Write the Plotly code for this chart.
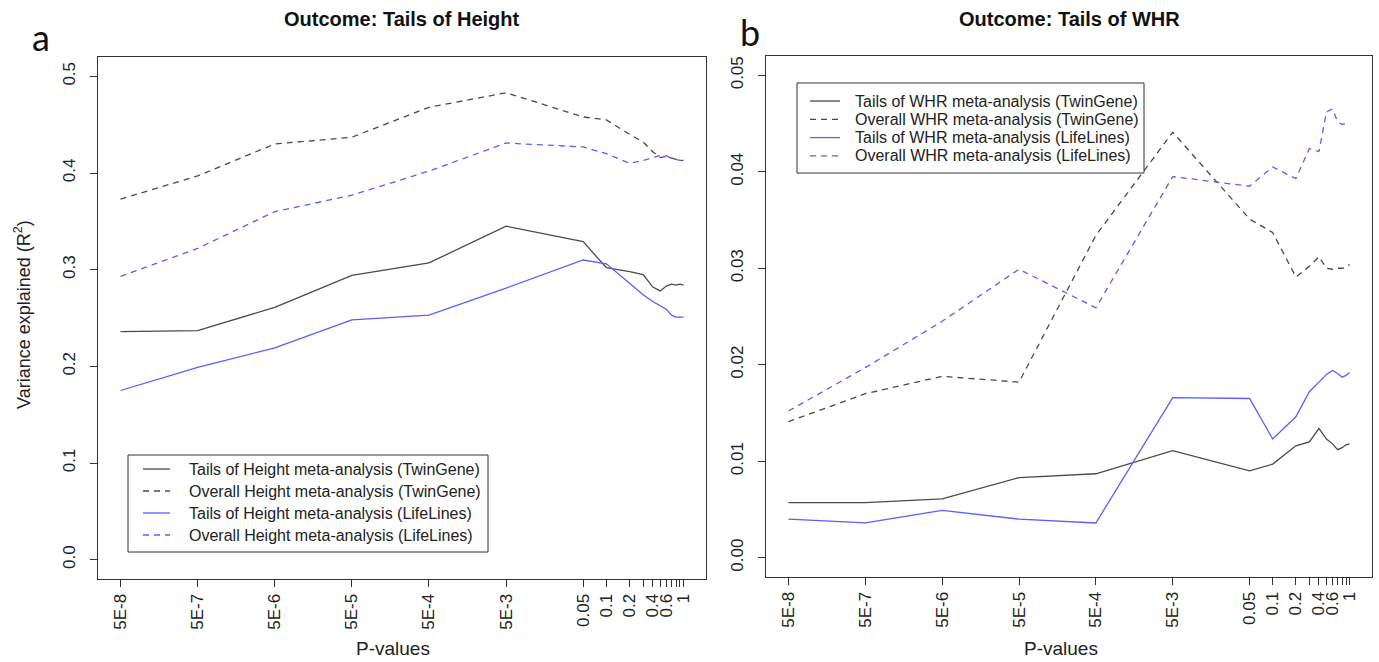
import math
import plotly.graph_objects as go

# P-value thresholds used to build the polygenic scores
p_values = [5e-8, 5e-7, 5e-6, 5e-5, 5e-4, 5e-3, 0.05, 0.1, 0.2, 0.3,
            0.4, 0.5, 0.6, 0.7, 0.8, 0.9, 1.0]
p_tick_text = ["5E-8", "5E-7", "5E-6", "5E-5", "5E-4", "5E-3", "0.05", "0.1",
               "0.2", "", "0.4", "", "0.6", "", "", "", "1"]

# Panel a: variance explained in the tails of height
height_tails_twingene = [0.236, 0.237, 0.261, 0.294, 0.307, 0.345, 0.329, 0.302, 0.298,
                         0.295, 0.282, 0.278, 0.283, 0.285, 0.284, 0.285, 0.284]
height_overall_twingene = [0.373, 0.397, 0.430, 0.437, 0.468, 0.483, 0.458, 0.455, 0.440,
                           0.432, 0.422, 0.416, 0.417, 0.415, 0.414, 0.413, 0.413]
height_tails_lifelines = [0.175, 0.199, 0.219, 0.248, 0.253, 0.281, 0.310, 0.306, 0.286,
                          0.274, 0.267, 0.263, 0.259, 0.253, 0.251, 0.251, 0.251]
height_overall_lifelines = [0.293, 0.322, 0.360, 0.377, 0.402, 0.431, 0.427, 0.420, 0.410,
                            0.413, 0.416, 0.418, 0.418, 0.415, 0.414, 0.413, 0.412]

# Panel b: variance explained in the tails of WHR
whr_tails_twingene = [0.0057, 0.0057, 0.0061, 0.0083, 0.0087, 0.0111, 0.0090, 0.0097, 0.0116,
                      0.0120, 0.0134, 0.0123, 0.0118, 0.0112, 0.0114, 0.0117, 0.0118]
whr_overall_twingene = [0.0141, 0.0170, 0.0188, 0.0182, 0.0334, 0.0441, 0.0351, 0.0337, 0.0291,
                        0.0302, 0.0312, 0.0300, 0.0299, 0.0300, 0.0300, 0.0301, 0.0304]
whr_tails_lifelines = [0.0040, 0.0036, 0.0049, 0.0040, 0.0036, 0.0166, 0.0165, 0.0123, 0.0146,
                       0.0172, 0.0182, 0.0190, 0.0194, 0.0191, 0.0187, 0.0189, 0.0192]
whr_overall_lifelines = [0.0152, 0.0197, 0.0245, 0.0299, 0.0259, 0.0395, 0.0385, 0.0405, 0.0393,
                         0.0424, 0.0421, 0.0462, 0.0465, 0.0452, 0.0449, 0.0450, 0.0451]

height_labels = ["Tails of Height meta-analysis (TwinGene)",
                 "Overall Height meta-analysis (TwinGene)",
                 "Tails of Height meta-analysis (LifeLines)",
                 "Overall Height meta-analysis (LifeLines)"]
whr_labels = ["Tails of WHR meta-analysis (TwinGene)",
              "Overall WHR meta-analysis (TwinGene)",
              "Tails of WHR meta-analysis (LifeLines)",
              "Overall WHR meta-analysis (LifeLines)"]

W, H = 1379, 662
FONT = "Liberation Sans, Arial, sans-serif"
BLACK = "#4a4a4a"
BLUE = "#5c5cff"
DASH = "6px,5px"
styles = [(BLACK, "solid"), (BLACK, DASH), (BLUE, "solid"), (BLUE, DASH)]


def fx(px):
    return px / W


def fy(py):
    return 1 - py / H


fig = go.Figure()

panels = [
    ("x", "y", [height_tails_twingene, height_overall_twingene,
                height_tails_lifelines, height_overall_lifelines], height_labels),
    ("x2", "y2", [whr_tails_twingene, whr_overall_twingene,
                  whr_tails_lifelines, whr_overall_lifelines], whr_labels),
]
for xa, ya, series, labels in panels:
    for vals, name, (col, dash) in zip(series, labels, styles):
        fig.add_trace(go.Scatter(
            x=p_values, y=vals, name=name, mode="lines", xaxis=xa, yaxis=ya,
            line=dict(color=col, width=1.3, dash=dash), showlegend=False))

# log x range padded by 4% on each side
lo, hi = math.log10(p_values[0]), math.log10(p_values[-1])
pad = 0.04 * (hi - lo)
xrange = [lo - pad, hi + pad]

axis_common = dict(showline=True, mirror=True, linecolor="#333", linewidth=1,
                   ticks="outside", ticklen=7, tickcolor="#333", tickwidth=1,
                   showgrid=False, zeroline=False,
                   tickfont=dict(family=FONT, size=17, color="#222"))

xcommon = dict(axis_common, type="log", range=xrange, tickmode="array",
               tickvals=p_values, ticktext=p_tick_text, tickangle=-90)

fig.update_layout(
    width=W, height=H, margin=dict(l=0, r=0, t=0, b=0),
    paper_bgcolor="white", plot_bgcolor="white", showlegend=False,
    xaxis=dict(xcommon, domain=[fx(98), fx(706)], anchor="y"),
    xaxis2=dict(xcommon, domain=[fx(766), fx(1372)], anchor="y2"),
    yaxis=dict(axis_common, domain=[fy(579), fy(57)], range=[-0.02, 0.52],
               tickmode="array", tickvals=[0, 0.1, 0.2, 0.3, 0.4, 0.5],
               tickformat=".1f", tickangle=-90, ticklabelstandoff=8, anchor="x"),
    yaxis2=dict(axis_common, domain=[fy(577), fy(56)], range=[-0.002, 0.052],
                tickmode="array", tickvals=[0, 0.01, 0.02, 0.03, 0.04, 0.05],
                tickformat=".2f", tickangle=-90, ticklabelstandoff=8, anchor="x2"),
)

annotations = []
shapes = []

# panel titles
for text, cx in [("Outcome: Tails of Height", (98 + 706) / 2),
                 ("Outcome: Tails of WHR", (766 + 1372) / 2)]:
    annotations.append(dict(text=f"<b>{text}</b>", x=fx(cx), y=fy(19), xref="paper",
                            yref="paper", showarrow=False, xanchor="center", yanchor="middle",
                            font=dict(family=FONT, size=20, color="#111")))

# panel letters
for letter, cx, cy in [("a", 41, 37), ("b", 750, 32)]:
    annotations.append(dict(text=letter, x=fx(cx), y=fy(cy), xref="paper", yref="paper",
                            showarrow=False, xanchor="center", yanchor="middle",
                            font=dict(family="Lato, Open Sans, sans-serif", size=36, color="#111")))

# axis titles
for cx in [393, 1061]:
    annotations.append(dict(text="P-values", x=fx(cx), y=fy(648), xref="paper", yref="paper",
                            showarrow=False, xanchor="center", yanchor="middle",
                            font=dict(family=FONT, size=19, color="#222")))
annotations.append(dict(text="Variance explained (R<sup>2</sup>)", x=fx(22), y=fy(315),
                        xref="paper", yref="paper", showarrow=False, textangle=-90,
                        xanchor="center", yanchor="middle",
                        font=dict(family=FONT, size=18, color="#222")))

# boxed legends: (box left, top, right, bottom, first row y, row step, line x0, x1, text x)
legend_specs = [
    (height_labels, (128, 455, 488, 552, 469, 22.0, 143, 170, 187)),
    (whr_labels, (797, 83, 1144, 173, 101, 18.3, 810, 840, 853)),
]
for labels, (bx0, by0, bx1, by1, ry, step, lx0, lx1, tx) in legend_specs:
    shapes.append(dict(type="rect", xref="paper", yref="paper", x0=fx(bx0), x1=fx(bx1),
                       y0=fy(by1), y1=fy(by0), line=dict(color="#333", width=1),
                       fillcolor="white", layer="above"))
    for i, (name, (col, dash)) in enumerate(zip(labels, styles)):
        yy = ry + i * step
        shapes.append(dict(type="line", xref="paper", yref="paper", x0=fx(lx0), x1=fx(lx1),
                           y0=fy(yy), y1=fy(yy), line=dict(color=col, width=1.3, dash=dash),
                           layer="above"))
        annotations.append(dict(text=name, x=fx(tx), y=fy(yy), xref="paper", yref="paper",
                                showarrow=False, xanchor="left", yanchor="middle",
                                font=dict(family=FONT, size=16, color="#222")))

fig.update_layout(annotations=annotations, shapes=shapes)
fig.write_html("out.html")
